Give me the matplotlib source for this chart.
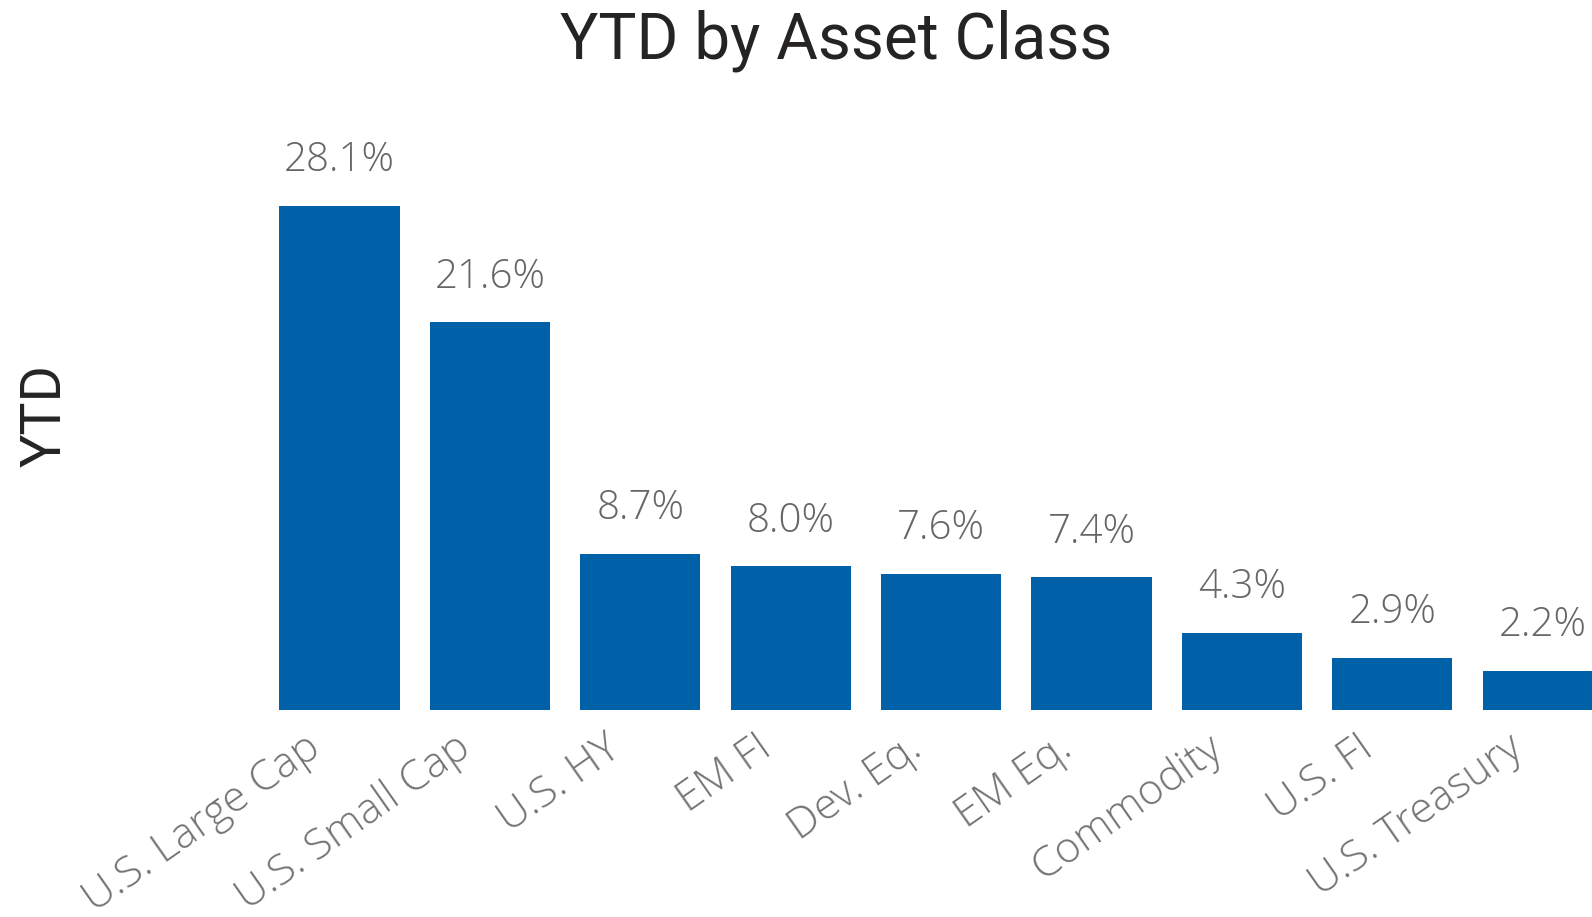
import numpy as np
import matplotlib.pyplot as plt
import matplotlib.transforms as mtransforms

# YTD returns by asset class
categories = ['U.S. Large Cap', 'U.S. Small Cap', 'U.S. HY', 'EM FI', 'Dev. Eq.',
              'EM Eq.', 'Commodity', 'U.S. FI', 'U.S. Treasury']
ytd = [28.1, 21.6, 8.7, 8.0, 7.6, 7.4, 4.3, 2.9, 2.2]

bar_color = '#0061A8'
label_grey = '#666666'

fig = plt.figure(figsize=(15.92, 9.17), dpi=100)
ax = fig.add_axes([260/1592, 1-710/917, 1-260/1592, 610/917])

x = np.arange(len(categories))
ax.bar(x, ytd, width=0.8, color=bar_color)

for xi, v in zip(x, ytd):
  ax.annotate(f'{v:.1f}%', (xi, v), xytext=(0, 25), textcoords='offset points',
              ha='center', va='baseline', fontsize=29, color=label_grey,
              family='Open Sans', weight='light', annotation_clip=False)

ax.set_xlim(-0.5286, 8.328)
ax.set_ylim(0, 34.0)
ax.set_xticks(x)
ax.set_xticklabels(categories, rotation=35, ha='right', va='top', rotation_mode='anchor',
                   fontsize=31, color='#737373', family='Open Sans', weight='light')
ax.tick_params(axis='x', length=0, pad=12)
shift = mtransforms.ScaledTranslation(-36/100, 0, fig.dpi_scale_trans)
for lbl in ax.get_xticklabels():
  lbl.set_transform(lbl.get_transform() + shift)
ax.set_yticks([])
for s in ax.spines.values():
  s.set_visible(False)

fig.text(836/1592, 1-58/917, 'YTD by Asset Class', ha='center', va='baseline',
         fontsize=46, color='#252423', family='Roboto')
fig.text(61/1592, 1-416/917, 'YTD', rotation=90, rotation_mode='anchor',
         ha='center', va='baseline', fontsize=40, color='#252423', family='Roboto')

fig.savefig('out.png', dpi=100)
